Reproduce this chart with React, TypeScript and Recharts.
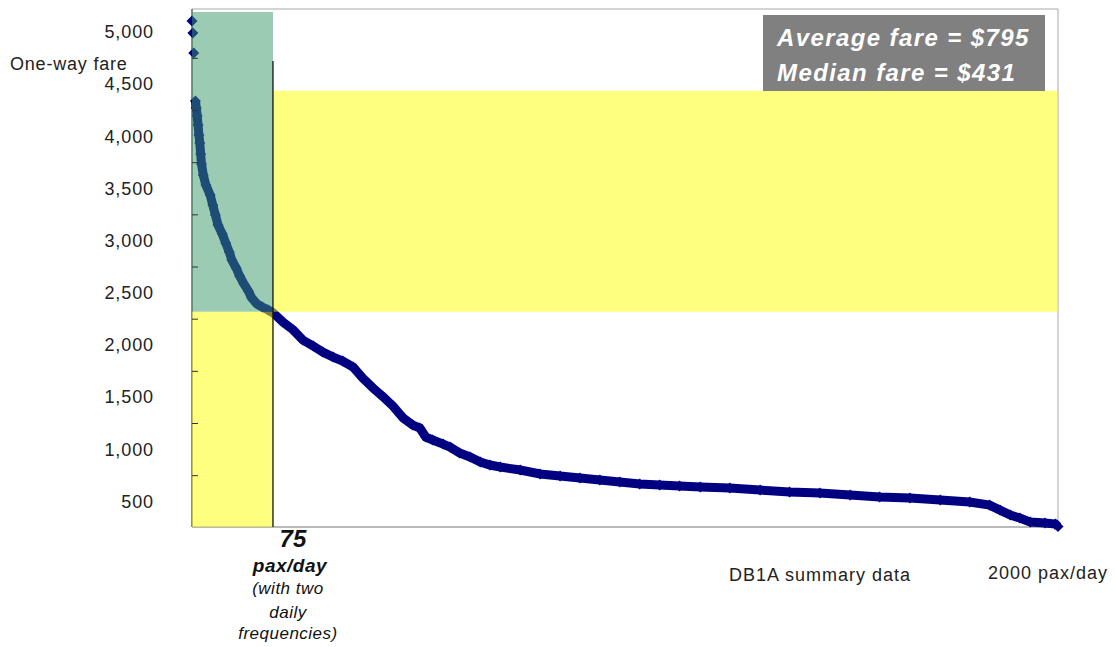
import React from 'react';
import { ScatterChart, Scatter, XAxis, YAxis, ReferenceArea, ReferenceLine } from 'recharts';

// ---- data ----
const topRanks = [0, 1, 2];
const topFares = [5108, 4993, 4802];

const curveRanks = [4, 5, 6, 7, 8, 9, 10, 11, 13, 16, 21, 24, 27, 30, 35, 39, 43, 46, 51, 55, 60, 65, 69, 75, 81, 88, 94, 105, 117, 128, 140, 151, 163, 174, 186, 197, 209, 221, 232, 244, 255, 263, 270, 278, 290, 298, 309, 321, 333, 344, 356, 379, 402, 425, 448, 471, 494, 517, 540, 563, 587, 621, 656, 690, 725, 760, 794, 829, 864, 898, 921, 933, 945, 956, 968, 985, 997, 1000];
const curveFares = [4341, 4274, 4198, 4111, 4016, 3939, 3833, 3738, 3632, 3536, 3440, 3344, 3249, 3153, 3066, 2980, 2894, 2817, 2740, 2664, 2587, 2520, 2453, 2395, 2367, 2338, 2309, 2223, 2146, 2050, 1993, 1935, 1887, 1849, 1791, 1686, 1590, 1504, 1417, 1302, 1235, 1207, 1120, 1092, 1053, 1024, 967, 929, 881, 852, 833, 804, 766, 746, 727, 708, 689, 670, 660, 651, 641, 631, 612, 593, 583, 564, 545, 535, 516, 497, 468, 420, 372, 344, 305, 296, 286, 262];

const yLabelValues = [500, 1000, 1500, 2000, 2500, 3000, 3500, 4000, 4500, 5000];
const yMarkValues = [750, 1250, 1750, 2250, 2750, 3250, 3750, 4250, 4750];
const yTickValues = [...yLabelValues, ...yMarkValues].sort((a, b) => a - b);
const fareDomain = [258, 5223];
const rankDomain = [0, 1000];
const thresholdRank = 93.5;
const lastRank = 1000;
const xTickValues = [thresholdRank, lastRank];
const bandLow = 2320;
const bandHigh = 4440;
const tealTop = 5195;
const thresholdLineTop = 4725;

const averageFare = 795;
const medianFare = 431;

const topPoints = topRanks.map((r, i) => ({ r, fare: topFares[i] }));
const curvePoints = curveRanks.map((r, i) => ({ r, fare: curveFares[i] }));

const NAVY = '#000080';
const FONT = '"Liberation Sans", Arial, sans-serif';
const Y_AXIS_W = 60;
const Y_LABEL_GAP = 38;

const Diamond = (props: any) => {
  const { cx, cy } = props;
  const s = 5.5;
  return <path d={`M${cx},${cy - s}L${cx + s},${cy}L${cx},${cy + s}L${cx - s},${cy}Z`} fill={NAVY} />;
};

const YTick = (props: any) => {
  const { x, y, payload } = props;
  const v = Number(payload.value);
  if (yMarkValues.includes(v)) {
    return <line x1={x + Y_LABEL_GAP} x2={x + Y_LABEL_GAP + 6} y1={y} y2={y} stroke="#333" strokeWidth={1} />;
  }
  return (
    <text x={x} y={y} textAnchor="end" dominantBaseline="central" fontFamily={FONT} fontSize={18} letterSpacing={0.9} fill="#222">
      {v.toLocaleString('en-US')}
    </text>
  );
};

const XTick = (props: any) => {
  const { x, y, payload } = props;
  if (payload.value === thresholdRank) {
    return (
      <g fontFamily={FONT} fill="#111">
        <text x={x + 20} y={y + 11} textAnchor="middle" dominantBaseline="central" fontSize={24} fontWeight="bold" fontStyle="italic">75</text>
        <text x={x + 17} y={y + 38} textAnchor="middle" dominantBaseline="central" fontSize={19} fontWeight="bold" fontStyle="italic" letterSpacing={0.5}>pax/day</text>
        <text x={x + 15} y={y + 61} textAnchor="middle" dominantBaseline="central" fontSize={17} fontStyle="italic" letterSpacing={0.5}>(with two</text>
        <text x={x + 15} y={y + 85} textAnchor="middle" dominantBaseline="central" fontSize={17} fontStyle="italic" letterSpacing={0.5}>daily</text>
        <text x={x + 15} y={y + 106} textAnchor="middle" dominantBaseline="central" fontSize={17} fontStyle="italic" letterSpacing={0.5}>frequencies)</text>
      </g>
    );
  }
  return (
    <text x={x - 10} y={y + 46} textAnchor="middle" dominantBaseline="central" fontFamily={FONT} fontSize={18} letterSpacing={1} fill="#222">
      2000 pax/day
    </text>
  );
};

export default function App() {
  return (
    <div style={{ position: 'absolute', left: 0, top: 0, width: 1115, height: 647, background: '#fff' }}>
      <ScatterChart width={1115} height={647} margin={{ top: 9, right: 57, bottom: 0, left: 192 - Y_AXIS_W }}>
        <XAxis
          type="number"
          dataKey="r"
          domain={rankDomain}
          ticks={xTickValues}
          interval={0}
          height={120}
          tickLine={false}
          tickSize={0}
          tickMargin={0}
          axisLine={{ stroke: '#a0a0a0' }}
          tick={<XTick />}
        />
        <YAxis
          yAxisId="fare"
          type="number"
          dataKey="fare"
          domain={fareDomain}
          ticks={yTickValues}
          interval={0}
          width={Y_AXIS_W}
          tickLine={false}
          tickSize={0}
          tickMargin={Y_LABEL_GAP}
          axisLine={{ stroke: '#444' }}
          tick={<YTick />}
        />
        <ReferenceArea yAxisId="fare" x1={rankDomain[0]} x2={rankDomain[1]} y1={fareDomain[0]} y2={fareDomain[1]} fill="none" stroke="#a8a8a8" strokeWidth={1} />
        <Scatter yAxisId="fare" data={topPoints} shape={<Diamond />} isAnimationActive={false} />
        <Scatter yAxisId="fare" data={curvePoints} shape={<Diamond />} line={{ stroke: NAVY, strokeWidth: 9 }} isAnimationActive={false} />
        <ReferenceArea yAxisId="fare" x1={rankDomain[0]} x2={thresholdRank} y1={bandLow} y2={tealTop} fill="rgb(58,152,106)" fillOpacity={0.5} stroke="none" zIndex={1600} />
        <ReferenceArea yAxisId="fare" x1={rankDomain[0]} x2={thresholdRank} y1={fareDomain[0]} y2={bandLow} fill="rgb(255,255,0)" fillOpacity={0.5} stroke="none" zIndex={1600} />
        <ReferenceArea yAxisId="fare" x1={thresholdRank} x2={rankDomain[1]} y1={bandLow} y2={bandHigh} fill="rgb(255,255,0)" fillOpacity={0.5} stroke="none" zIndex={1600} />
        <ReferenceLine yAxisId="fare" segment={[{ x: thresholdRank, y: fareDomain[0] }, { x: thresholdRank, y: thresholdLineTop }]} stroke="#111" strokeWidth={1.3} zIndex={1700} />
      </ScatterChart>
      <svg width={1115} height={647} style={{ position: 'absolute', left: 0, top: 0, pointerEvents: 'none' }}>
        <text x={10} y={64} dominantBaseline="central" fontFamily={FONT} fontSize={18} letterSpacing={0.8} fill="#222">One-way fare</text>
        <text x={820} y={575} textAnchor="middle" dominantBaseline="central" fontFamily={FONT} fontSize={18} letterSpacing={1} fill="#222">DB1A summary data</text>
        <rect x={763} y={15} width={282} height={76} fill="#808080" />
        <text x={777} y={37} dominantBaseline="central" fontFamily={FONT} fontSize={24} fontWeight="bold" fontStyle="italic" letterSpacing={1.4} fill="#fff">{`Average fare = $${averageFare}`}</text>
        <text x={777} y={72} dominantBaseline="central" fontFamily={FONT} fontSize={24} fontWeight="bold" fontStyle="italic" letterSpacing={1.4} fill="#fff">{`Median fare = $${medianFare}`}</text>
      </svg>
    </div>
  );
}
